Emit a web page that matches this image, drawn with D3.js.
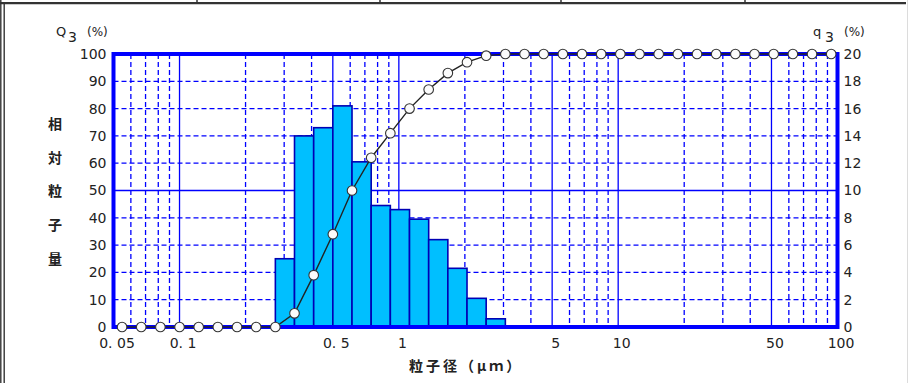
<!DOCTYPE html>
<html>
<head>
<meta charset="utf-8">
<script src="https://cdn.jsdelivr.net/npm/d3@7"></script>
<style>
  html, body { margin: 0; padding: 0; background: #fff; }
  #container { width: 909px; height: 383px; }
  text { font-family: "DejaVu Sans", sans-serif; }
</style>
</head>
<body>
<div id="container"></div>
<script>
const width = 909, height = 383;

// --- Data ---
// particle size channels (um)
const sizes = [0.0547, 0.0669, 0.0818, 0.100, 0.1223, 0.1495, 0.1829, 0.2236, 0.2735, 0.3344,
  0.4090, 0.5001, 0.6116, 0.7479, 0.9146, 1.1185, 1.3678, 1.6727, 2.0455, 2.5015,
  3.059, 3.741, 4.575, 5.594, 6.841, 8.366, 10.23, 12.51, 15.30, 18.71,
  22.88, 27.98, 34.22, 41.85, 51.17, 62.58, 76.53, 93.59];
// cumulative Q3 (%) at each size
const cumQ3 = [0, 0, 0, 0, 0, 0, 0, 0, 0, 5,
  19, 34, 50, 62, 71, 80, 87, 93, 97, 99.4,
  100, 100, 100, 100, 100, 100, 100, 100, 100, 100,
  100, 100, 100, 100, 100, 100, 100, 100];
// frequency q3 (%) for the channel sizes[i]..sizes[i+1]
const freqQ3 = [0, 0, 0, 0, 0, 0, 0, 0, 5.0, 14.0,
  14.6, 16.2, 12.1, 8.9, 8.6, 7.9, 6.4, 4.3, 2.1, 0.6,
  0, 0, 0, 0, 0, 0, 0, 0, 0, 0,
  0, 0, 0, 0, 0, 0, 0];

const xMajor = [0.1, 0.5, 1, 5, 10, 50];
const xMinor = [0.06, 0.07, 0.08, 0.09, 0.2, 0.3, 0.4, 0.6, 0.7, 0.8, 0.9,
  2, 3, 4, 6, 7, 8, 9, 20, 30, 40, 60, 70, 80, 90];
const xTickVals = [0.05, 0.1, 0.5, 1, 5, 10, 50, 100];
const xTickLabels = ["0. 05", "0. 1", "0. 5", "1", "5", "10", "50", "100"];
const yTicks = [0, 10, 20, 30, 40, 50, 60, 70, 80, 90, 100];
const y2Ticks = [0, 2, 4, 6, 8, 10, 12, 14, 16, 18, 20];
const yTitleChars = ["相", "対", "粒", "子", "量"];

const BLUE = "#0000ff";
const INK = "#222";

const svg = d3.select("#container").append("svg")
  .attr("width", width).attr("height", height);

// --- page frame (table borders) ---
const frame = svg.append("g").attr("stroke", "#333").attr("fill", "none");
frame.append("line").attr("x1", 0).attr("x2", 906).attr("y1", 3.2).attr("y2", 3.2).attr("stroke-width", 2.2);
for (const xv of [197, 380, 561, 745]) {
  frame.append("line").attr("x1", xv).attr("x2", xv).attr("y1", 0).attr("y2", 3).attr("stroke-width", 1.5);
}
frame.append("line").attr("x1", 0.8).attr("x2", 0.8).attr("y1", 0).attr("y2", height).attr("stroke-width", 1.4);
frame.append("line").attr("x1", 4.2).attr("x2", 4.2).attr("y1", 3).attr("y2", height).attr("stroke-width", 1.4);
svg.append("line").attr("x1", 907.5).attr("x2", 907.5).attr("y1", 0).attr("y2", height)
  .attr("stroke", "#dcdcdc").attr("stroke-width", 1);

// --- Scales ---
const x = d3.scaleLog().domain([0.05, 100]).range([113.5, 837.5]);
const y = d3.scaleLinear().domain([0, 100]).range([327, 54]);
const y2 = d3.scaleLinear().domain([0, 20]).range([327, 54]);

// --- Grid ---
const grid = svg.append("g").attr("stroke", BLUE);
grid.selectAll(".vminor").data(xMinor).join("line")
  .attr("x1", d => x(d)).attr("x2", d => x(d))
  .attr("y1", y(100)).attr("y2", y(0))
  .attr("stroke-width", 1.3).attr("stroke-dasharray", "5,3");
grid.selectAll(".vmajor").data(xMajor).join("line")
  .attr("x1", d => x(d)).attr("x2", d => x(d))
  .attr("y1", y(100)).attr("y2", y(0))
  .attr("stroke-width", 1.3);
grid.selectAll(".h").data(yTicks.filter(d => d > 0 && d < 100)).join("line")
  .attr("x1", x(0.05)).attr("x2", x(100))
  .attr("y1", d => y(d)).attr("y2", d => y(d))
  .attr("stroke-width", 1.3)
  .attr("stroke-dasharray", d => d === 50 ? null : "5,3");

// --- Histogram bars (q3) ---
const bars = freqQ3.map((v, i) => ({ lo: sizes[i], hi: sizes[i + 1], v })).filter(d => d.v > 0);
svg.append("g").selectAll("rect").data(bars).join("rect")
  .attr("x", d => x(d.lo))
  .attr("y", d => y2(d.v))
  .attr("width", d => x(d.hi) - x(d.lo))
  .attr("height", d => y2(0) - y2(d.v))
  .attr("fill", "#00bfff")
  .attr("stroke", "#0000b4")
  .attr("stroke-width", 1.6);

// --- Plot frame ---
svg.append("rect")
  .attr("x", x(0.05)).attr("y", y(100))
  .attr("width", x(100) - x(0.05)).attr("height", y(0) - y(100))
  .attr("fill", "none").attr("stroke", BLUE).attr("stroke-width", 4);

// --- Cumulative Q3 curve ---
const pts = sizes.map((s, i) => ({ s, v: cumQ3[i] }));
svg.append("path").datum(pts)
  .attr("fill", "none").attr("stroke", INK).attr("stroke-width", 1.4)
  .attr("d", d3.line().x(d => x(d.s)).y(d => y(d.v)));
svg.append("g").selectAll("circle").data(pts).join("circle")
  .attr("cx", d => x(d.s)).attr("cy", d => y(d.v)).attr("r", 4.8)
  .attr("fill", "#fbfbfb").attr("stroke", "#333").attr("stroke-width", 1.1);

// --- Axes ---
const xAxis = svg.append("g").attr("transform", `translate(3,${y(0)})`)
  .call(d3.axisBottom(x).tickValues(xTickVals)
    .tickFormat((d, i) => xTickLabels[i]).tickSize(0).tickPadding(11));
const yAxis = svg.append("g").attr("transform", `translate(${x(0.05)},0)`)
  .call(d3.axisLeft(y).tickValues(yTicks).tickSize(0).tickPadding(7));
const y2Axis = svg.append("g").attr("transform", `translate(${x(100)},0)`)
  .call(d3.axisRight(y2).tickValues(y2Ticks).tickSize(0).tickPadding(6));
for (const ax of [xAxis, yAxis, y2Axis]) {
  ax.select(".domain").remove();
  ax.selectAll("text").attr("fill", INK)
    .style("font-family", "'DejaVu Sans', sans-serif").style("font-size", "14px");
}

// --- Axis titles ---
svg.append("text")
  .attr("x", 409).attr("y", 371)
  .attr("fill", INK)
  .style("font-family", "'Noto Sans CJK JP', sans-serif")
  .style("font-size", "14px").style("font-weight", "700")
  .style("letter-spacing", "3px")
  .text("粒子径（μｍ）");

svg.append("g").selectAll("text").data(yTitleChars).join("text")
  .attr("x", 55).attr("y", (d, i) => 129 + i * 33.7)
  .attr("text-anchor", "middle")
  .attr("fill", INK)
  .style("font-family", "'Noto Sans CJK JP', sans-serif")
  .style("font-size", "14px").style("font-weight", "700")
  .text(d => d);

// Q3 / q3 unit labels
function unitLabel(x0, letter) {
  const g = svg.append("g").attr("fill", INK);
  g.append("text").attr("x", x0).attr("y", 36).style("font-size", "13px").text(letter);
  g.append("text").attr("x", x0 + 12).attr("y", 42).style("font-size", "14px").text("3");
  g.append("text").attr("x", x0 + 31).attr("y", 36).style("font-size", "12px").text("(%)");
}
unitLabel(56, "Q");
unitLabel(813, "q");
</script>
</body>
</html>
